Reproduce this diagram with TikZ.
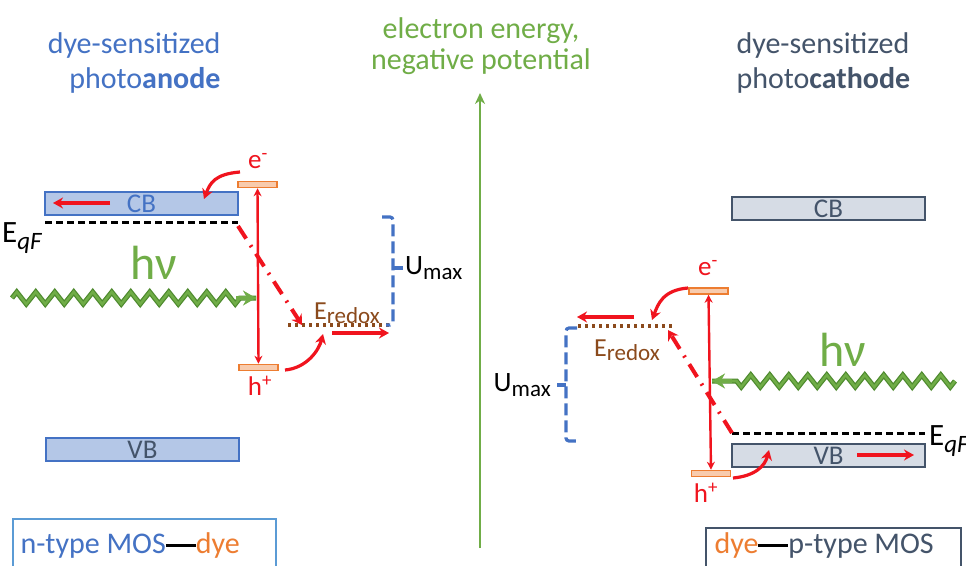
\documentclass[tikz,border=0pt]{standalone}
\usepackage{fontspec}
\setmainfont{Carlito}
\usetikzlibrary{arrows.meta,decorations.pathmorphing}
\definecolor{tblue}{HTML}{4472C4}
\definecolor{lblue}{HTML}{B4C7E7}
\definecolor{slate}{HTML}{44546A}
\definecolor{lslate}{HTML}{D6DCE5}
\definecolor{egreen}{HTML}{70AD47}
\definecolor{dgreen}{HTML}{4E8A2E}
\definecolor{ered}{HTML}{F0141E}
\definecolor{eorange}{HTML}{ED7D31}
\definecolor{lorange}{HTML}{F8CBAD}
\definecolor{ebrown}{HTML}{8B4A1C}
\definecolor{sblue}{HTML}{5B9BD5}
\begin{document}
\begin{tikzpicture}[x=1pt,y=-1pt,
  big/.style={font=\fontsize{30}{34}\selectfont},
  mid/.style={font=\fontsize{27}{30}\selectfont},
  band/.style={draw, line width=1.5pt, minimum width=193pt, minimum height=23pt, inner sep=0pt, font=\fontsize{27}{30}\selectfont},
  lvl/.style={draw=eorange, fill=lorange, line width=1.5pt, minimum width=39pt, minimum height=6pt, inner sep=0pt},
  rarr/.style={draw=ered, line width=3.2pt, -{Stealth[length=10pt,width=11pt]}},
  varr/.style={draw=ered, line width=2.4pt, {Stealth[length=8pt,width=8pt]}-{Stealth[length=8pt,width=8pt]}},
  darr/.style={draw=ered, line width=4pt, dash pattern=on 15pt off 8pt on 2pt off 8pt, -{Stealth[length=10pt,width=12pt]}},
  qf/.style={draw=black, line width=3pt, dash pattern=on 7pt off 4pt},
  redox/.style={draw=ebrown, line width=4pt, dash pattern=on 3pt off 4pt},
  brk/.style={draw=tblue, line width=3.2pt, dash pattern=on 12pt off 5pt, rounded corners=3pt},
  wave/.style={line width=5pt, decorate, decoration={zigzag, segment length=19pt, amplitude=6pt, post length=16pt}},
  wtip/.style={-{Stealth[length=13pt,width=15pt]}}
]
\clip (0,0) rectangle (966,565);
\fill[white] (0,0) rectangle (966,565);

% ---------- titles ----------
\node[big, text=tblue, anchor=east] (tl1) at (224,46) {dye-sensitized};
\node[big, text=tblue, anchor=east] (tl2) at (224,80) {photo\textbf{anode}};
\node[big, text=egreen] (tc1) at (481,31) {electron energy,};
\node[big, text=egreen] (tc2) at (481,62) {negative potential};
\node[big, text=slate, anchor=west] (tr1) at (733,46) {dye-sensitized};
\node[big, text=slate, anchor=west] (tr2) at (733,80) {photo\textbf{cathode}};

% ---------- energy axis ----------
\coordinate (ax0) at (480,548);
\coordinate (ax1) at (480,93);
\draw[egreen, line width=2.6pt, -{Stealth[length=11pt,width=10pt]}] (ax0) -- (ax1);

% ================= LEFT: photoanode =================
\node[band, draw=tblue, fill=lblue, text=tblue] (cbL) at (141.5,203.5) {CB};
\node[band, draw=tblue, fill=lblue, text=slate] (vbL) at (142.5,449.5) {VB};
\coordinate (cbLa) at (110,203); \coordinate (cbLb) at (53,203);
\draw[rarr] (cbLa) -- (cbLb);

\coordinate (qfL1) at (45,222); \coordinate (qfL2) at (238,222);
\draw[qf] (qfL1) -- (qfL2);
\node[font=\fontsize{31}{34}\selectfont, anchor=west, inner sep=0pt] (eqfL) at (2,238) {E\raisebox{-0.45ex}{\fontsize{25}{26}\selectfont\itshape qF}};

\node[font=\fontsize{48}{50}\selectfont, text=egreen] (hvL) at (154,263) {hν};

\node[lvl] (eL) at (257.5,184.5) {};
\node[lvl] (hL) at (258.5,367.5) {};
\node[mid, text=ered] (eLl) at (258,161) {e\textsuperscript{-}};
\node[mid, text=ered] (hLl) at (260,386) {h\textsuperscript{+}};
\draw[varr] (eL.south) -- (hL.north);

\coordinate (wL0) at (12,298); \coordinate (wL1) at (256,298);
\draw[dgreen, wave] (wL0) -- (wL1);
\draw[egreen, wave, line width=2.6pt] (wL0) -- (wL1);
\draw[egreen, line width=3.5pt, wtip] (236,298) -- (wL1);

\coordinate (eLs) at (240,172); \coordinate (eLe) at (204,199);
\draw[rarr] (eLs) .. controls +(-25,2) and +(6,-16) .. (eLe);
\coordinate (hLs) at (285,370); \coordinate (hLe) at (323,334);
\draw[rarr] (hLs) .. controls +(22,-2) and +(-4,16) .. (hLe);

\coordinate (rdL1) at (288,325); \coordinate (rdL2) at (390,325);
\draw[redox] (rdL1) -- (rdL2);
\node[font=\fontsize{26}{28}\selectfont, text=ebrown, anchor=west, inner sep=0pt] (erL) at (314,313) {E\raisebox{-0.35ex}{\fontsize{23}{24}\selectfont redox}};
\coordinate (raL0) at (332,333); \coordinate (raL1) at (389,333);
\draw[rarr] (raL0) -- (raL1);

\coordinate (dL0) at (238,226); \coordinate (dL1) at (302,325);
\draw[darr] (dL0) -- (dL1);

\coordinate (bL0) at (382,217); \coordinate (bL1) at (393,217);
\coordinate (bL2) at (393,325); \coordinate (bL3) at (386,325);
\draw[brk] (bL0) -- (bL1) -- (bL2) -- (bL3);
\coordinate (bLm) at (393,268); \coordinate (bLt) at (403,268);
\draw[tblue, line width=3.2pt] (bLm) -- (bLt);
\node[font=\fontsize{28}{30}\selectfont, anchor=west, inner sep=0pt] (umL) at (405,268) {U\raisebox{-0.35ex}{\fontsize{23}{24}\selectfont max}};

\node[draw=sblue, line width=1.8pt, minimum width=263pt, minimum height=60pt, anchor=north west, inner sep=0pt] (boxL) at (12,518) {};
\node[font=\fontsize{30}{34}\selectfont, anchor=west] (txL) at (17,545) {\textcolor{tblue}{n-type MOS}\rule[0.45ex]{30pt}{2.6pt}\textcolor{eorange}{dye}};

% ================= RIGHT: photocathode =================
\node[band, draw=slate, fill=lslate, text=slate] (cbR) at (828.5,208.5) {CB};
\node[band, draw=slate, fill=lslate, text=slate] (vbR) at (828.5,455.5) {VB};
\coordinate (vbRa) at (857,455); \coordinate (vbRb) at (914,455);
\draw[rarr] (vbRa) -- (vbRb);

\coordinate (qfR1) at (732,433); \coordinate (qfR2) at (925,433);
\draw[qf] (qfR1) -- (qfR2);
\node[font=\fontsize{31}{34}\selectfont, anchor=west, inner sep=0pt] (eqfR) at (929,441) {E\raisebox{-0.45ex}{\fontsize{25}{26}\selectfont\itshape qF}};

\node[font=\fontsize{48}{50}\selectfont, text=egreen] (hvR) at (843,350) {hν};

\node[lvl] (eR) at (708.5,291) {};
\node[lvl] (hR) at (711,473.5) {};
\node[mid, text=ered] (eRl) at (708,268) {e\textsuperscript{-}};
\node[mid, text=ered] (hRl) at (706,493) {h\textsuperscript{+}};
\draw[varr] (eR.south) -- (hR.north);

\coordinate (wR0) at (955,381); \coordinate (wR1) at (712,381);
\draw[dgreen, wave] (wR0) -- (wR1);
\draw[egreen, wave, line width=2.6pt] (wR0) -- (wR1);
\draw[egreen, line width=3.5pt, wtip] (732,381) -- (wR1);

\coordinate (eRs) at (688,288); \coordinate (eRe) at (652,320);
\draw[rarr] (eRs) .. controls +(-25,2) and +(6,-16) .. (eRe);
\coordinate (hRs) at (733,478); \coordinate (hRe) at (769,450);
\draw[rarr] (hRs) .. controls +(22,-2) and +(-4,16) .. (hRe);

\coordinate (rdR1) at (578,326); \coordinate (rdR2) at (673,326);
\draw[redox] (rdR1) -- (rdR2);
\node[font=\fontsize{26}{28}\selectfont, text=ebrown, anchor=west, inner sep=0pt] (erR) at (594,350) {E\raisebox{-0.35ex}{\fontsize{23}{24}\selectfont redox}};
\coordinate (raR0) at (634,317); \coordinate (raR1) at (577,317);
\draw[rarr] (raR0) -- (raR1);

\coordinate (dR0) at (732,433); \coordinate (dR1) at (668,330);
\draw[darr] (dR0) -- (dR1);

\coordinate (bR0) at (577,328); \coordinate (bR1) at (566,328);
\coordinate (bR2) at (566,441); \coordinate (bR3) at (576,441);
\draw[brk] (bR0) -- (bR1) -- (bR2) -- (bR3);
\coordinate (bRm) at (566,385); \coordinate (bRt) at (557,385);
\draw[tblue, line width=3.2pt] (bRm) -- (bRt);
\node[font=\fontsize{28}{30}\selectfont, anchor=east, inner sep=0pt] (umR) at (551,385) {U\raisebox{-0.35ex}{\fontsize{23}{24}\selectfont max}};

\node[draw=slate, line width=1.8pt, minimum width=255pt, minimum height=60pt, anchor=north west, inner sep=0pt] (boxR) at (705,527) {};
\node[font=\fontsize{30}{34}\selectfont, anchor=west] (txR) at (711,545) {\textcolor{eorange}{dye}\rule[0.45ex]{30pt}{2.6pt}\textcolor{slate}{p-type MOS}};
\end{tikzpicture}
\end{document}
